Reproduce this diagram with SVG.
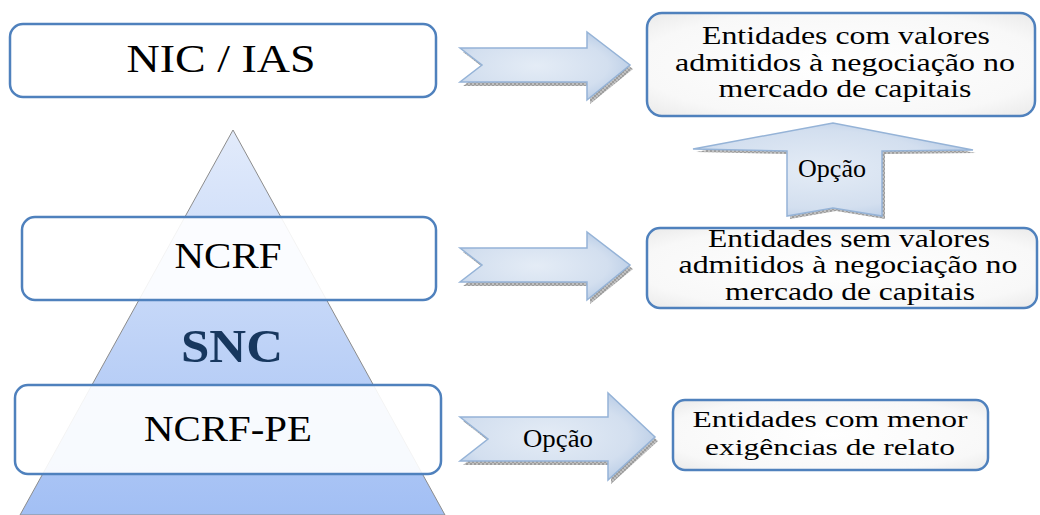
<svg xmlns="http://www.w3.org/2000/svg" width="1040" height="515" viewBox="0 0 1040 515">
<defs>
<linearGradient id="pyr" x1="0" y1="0" x2="0" y2="1">
<stop offset="0" stop-color="#e2ebfb"/>
<stop offset="1" stop-color="#a2bff4"/>
</linearGradient>
<radialGradient id="arr" cx="0.45" cy="0.5" r="0.7">
<stop offset="0" stop-color="#e4ecf6"/>
<stop offset="0.6" stop-color="#d3dfef"/>
<stop offset="1" stop-color="#a9c1e0"/>
</radialGradient>
<radialGradient id="box" cx="0.5" cy="0.5" r="0.75">
<stop offset="0" stop-color="#ffffff"/>
<stop offset="0.7" stop-color="#f8f8f8"/>
<stop offset="1" stop-color="#e6e6e6"/>
</radialGradient>
<pattern id="hatch" width="4" height="4" patternUnits="userSpaceOnUse">
<rect width="4" height="4" fill="#b0b0b0"/>
<path d="M0 0L4 4M4 0L0 4" stroke="#7a7a7a" stroke-width="0.8"/>
</pattern>
</defs>
<style>
.lbox{fill:#ffffff;fill-opacity:0.9;stroke:#4f81bd;stroke-width:2.5}
.rbox{fill:url(#box);stroke:#4f81bd;stroke-width:2.5}
.arrow{fill:url(#arr);stroke:#95b3d7;stroke-width:1.5;stroke-linejoin:miter}
.shadow{fill:url(#hatch);opacity:0.8}
text{font-family:"Liberation Serif",Tinos,"Times New Roman","DejaVu Serif",serif;fill:#000;text-anchor:middle}
</style>

<g id="pyramid">
<polygon points="233,130 20,515 445,515" fill="url(#pyr)" stroke="#8c8c8c" stroke-width="1"/>
<text x="232" y="362" font-size="47" font-weight="bold" style="fill:#17375e" textLength="102" lengthAdjust="spacingAndGlyphs">SNC</text>
</g>

<g id="node-nic">
<rect class="lbox" x="10" y="24" width="426" height="73" rx="13"/>
<text x="221" y="72" font-size="41" textLength="189" lengthAdjust="spacingAndGlyphs">NIC / IAS</text>
</g>

<g id="node-ncrf">
<rect class="lbox" x="22" y="217" width="414" height="83" rx="13"/>
<text x="228" y="268" font-size="35" textLength="107" lengthAdjust="spacingAndGlyphs">NCRF</text>
</g>

<g id="node-ncrfpe">
<rect class="lbox" x="15" y="385" width="426" height="89" rx="13"/>
<text x="228" y="441" font-size="36" textLength="168" lengthAdjust="spacingAndGlyphs">NCRF-PE</text>
</g>

<g id="node-listed">
<rect class="rbox" x="647" y="13" width="388" height="103" rx="15"/>
<text x="846" y="44" font-size="25" textLength="288" lengthAdjust="spacingAndGlyphs">Entidades com valores</text>
<text x="845" y="71" font-size="25" textLength="340" lengthAdjust="spacingAndGlyphs">admitidos à negociação no</text>
<text x="845" y="97" font-size="25" textLength="253" lengthAdjust="spacingAndGlyphs">mercado de capitais</text>
</g>

<g id="node-unlisted">
<rect class="rbox" x="647" y="228" width="390" height="80" rx="13"/>
<text x="849" y="247" font-size="25" textLength="282" lengthAdjust="spacingAndGlyphs">Entidades sem valores</text>
<text x="848" y="273" font-size="25" textLength="339" lengthAdjust="spacingAndGlyphs">admitidos à negociação no</text>
<text x="850" y="300" font-size="25" textLength="250" lengthAdjust="spacingAndGlyphs">mercado de capitais</text>
</g>

<g id="node-small">
<rect class="rbox" x="673" y="400" width="315" height="70" rx="12"/>
<text x="830" y="427" font-size="24" textLength="275" lengthAdjust="spacingAndGlyphs">Entidades com menor</text>
<text x="830" y="455" font-size="24" textLength="250" lengthAdjust="spacingAndGlyphs">exigências de relato</text>
</g>

<g id="connectors">
<g id="arrow-nic">
<polygon class="shadow" transform="translate(3,4)" points="460,48 587,48 587,32 630,65 587,100 587,82 460,82 482,65"/>
<polygon class="arrow" points="460,48 587,48 587,32 630,65 587,100 587,82 460,82 482,65"/>
</g>
<g id="arrow-ncrf">
<polygon class="shadow" transform="translate(3,4)" points="460,248 587,248 587,232 630,265 587,300 587,282 460,282 482,265"/>
<polygon class="arrow" points="460,248 587,248 587,232 630,265 587,300 587,282 460,282 482,265"/>
</g>
<g id="arrow-pe">
<polygon class="shadow" transform="translate(3,4)" points="460,417 608,417 608,393 655,437 608,480 608,461 460,461 488,439"/>
<polygon class="arrow" points="460,417 608,417 608,393 655,437 608,480 608,461 460,461 488,439"/>
<text x="558" y="447" font-size="26" textLength="70" lengthAdjust="spacingAndGlyphs">Opção</text>
</g>
<g id="arrow-up">
<polygon class="shadow" transform="translate(3,3)" points="693,149 833,123 973,150 882,151 882,216 833,208 787,216 787,151"/>
<polygon class="arrow" points="693,149 833,123 973,150 882,151 882,216 833,208 787,216 787,151"/>
<text x="832" y="177" font-size="26" textLength="68" lengthAdjust="spacingAndGlyphs">Opção</text>
</g>
</g>
</svg>
